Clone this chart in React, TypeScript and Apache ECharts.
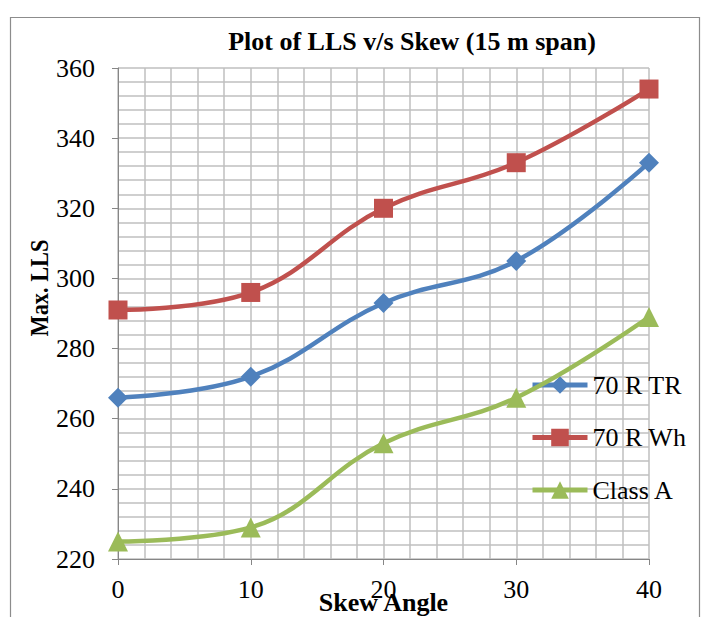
import React, { useEffect, useRef } from "react";
import * as echarts from "echarts";

const skewAngles = [0, 10, 20, 30, 40];
const tr70 = [266, 272, 293, 305, 333];
const wh70 = [291, 296, 320, 333, 354];
const classA = [225, 229, 253, 266, 289];
const seriesNames = ["70 R TR", "70 R Wh", "Class A"];
const titleText = "Plot of LLS v/s Skew (15 m span)";

const FONT = "'Liberation Serif', 'Times New Roman', serif";

export default function App() {
  const ref = useRef<HTMLDivElement>(null);
  useEffect(() => {
    if (!ref.current) return;
    const chart = echarts.init(ref.current, null, { renderer: "svg" });
    const pair = (ys: number[]) => skewAngles.map((x, i) => [x, ys[i]]);
    const colors = ["#4F81BD", "#C0504D", "#9BBB59"];
    const symbols = ["diamond", "rect", "triangle"];
    const sizes = [20, 19, 20];
    const datasets = [tr70, wh70, classA];
    chart.setOption({
      animation: false,
      backgroundColor: "#ffffff",
      textStyle: { fontFamily: FONT },
      title: {
        text: titleText,
        left: 412,
        top: 28,
        textAlign: "center",
        padding: 0,
        textStyle: { fontFamily: FONT, fontSize: 26, fontWeight: "bold", color: "#000" },
      },
      grid: { left: 118, right: 54, top: 68, bottom: 58, containLabel: false, outerBoundsMode: "none" },
      legend: {
        orient: "vertical",
        left: 530,
        top: 372,
        padding: 0,
        itemWidth: 55,
        itemHeight: 22,
        itemGap: 26.5,
        data: seriesNames,
        lineStyle: { width: 5 },
        textStyle: { fontFamily: FONT, fontSize: 26, color: "#000", lineHeight: 26 },
      },
      xAxis: {
        type: "value",
        min: 0,
        max: 40,
        interval: 10,
        name: "Skew Angle",
        nameLocation: "middle",
        nameGap: 30,
        nameMoveOverlap: false,
        nameTextStyle: { fontFamily: FONT, fontSize: 26, fontWeight: "bold", color: "#000", lineHeight: 26 },
        axisLine: { show: true, lineStyle: { color: "#868686", width: 1 } },
        axisTick: { show: true, length: 6, lineStyle: { color: "#868686" } },
        axisLabel: { fontFamily: FONT, fontSize: 26, color: "#000", margin: 17 },
        splitLine: { show: true, lineStyle: { color: "#BFBFBF", width: 1.5 } },
        minorTick: { show: false, splitNumber: 5 },
        minorSplitLine: { show: true, lineStyle: { color: "#BFBFBF", width: 1.5 } },
      },
      yAxis: {
        type: "value",
        min: 220,
        max: 360,
        interval: 20,
        axisLine: { show: true, lineStyle: { color: "#868686", width: 1 } },
        axisTick: { show: true, length: 6, lineStyle: { color: "#868686" } },
        axisLabel: { fontFamily: FONT, fontSize: 26, color: "#000", margin: 23 },
        splitLine: { show: true, lineStyle: { color: "#BFBFBF", width: 1.5 } },
        minorTick: { show: false, splitNumber: 5 },
        minorSplitLine: { show: true, lineStyle: { color: "#BFBFBF", width: 1.5 } },
      },
      graphic: [
        {
          type: "rect",
          shape: { x: 10.5, y: 17.5, width: 689, height: 700 },
          style: { fill: "none", stroke: "#8C8C8C", lineWidth: 1.2 },
          silent: true,
        },
        {
          type: "text",
          x: 39,
          y: 288,
          rotation: Math.PI / 2,
          scaleX: 0.86,
          style: {
            text: "Max. LLS",
            fontFamily: FONT,
            fontSize: 26,
            fontWeight: "bold",
            fill: "#000",
            align: "center",
            verticalAlign: "middle",
          },
        },
      ],
      series: datasets.map((d, i) => ({
        name: seriesNames[i],
        type: "line",
        data: pair(d),
        smooth: 0.4,
        symbol: symbols[i],
        symbolSize: sizes[i],
        lineStyle: { color: colors[i], width: 4.5 },
        itemStyle: { color: colors[i] },
        z: 3 + i,
      })),
    });
    return () => chart.dispose();
  }, []);
  return <div ref={ref} style={{ width: 703, height: 617, position: "absolute", left: 0, top: 0 }} />;
}
